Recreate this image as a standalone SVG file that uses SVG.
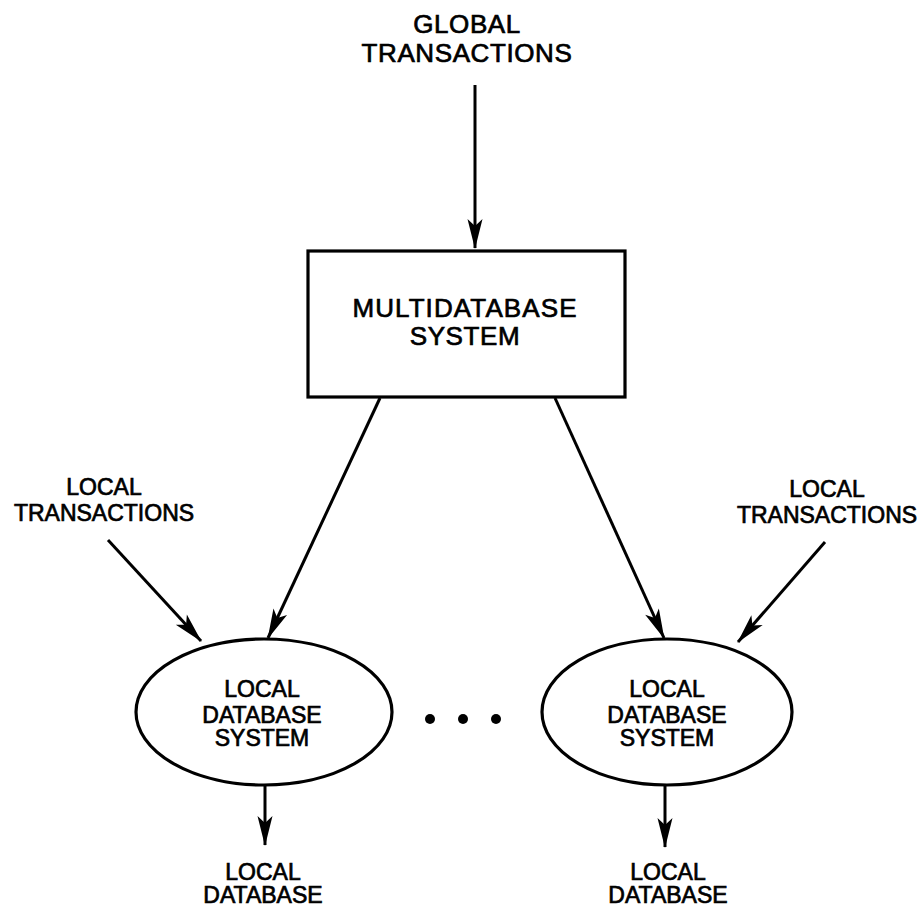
<svg xmlns="http://www.w3.org/2000/svg" width="922" height="910" viewBox="0 0 922 910">
  <style>
    .lbl { font-family: "Liberation Sans", Arial, Helvetica, sans-serif; fill: #000; stroke: #000; stroke-width: 0.7; text-anchor: middle; }
    .big { font-size: 26px; letter-spacing: 0.6px; }
    .wide { letter-spacing: 1.1px; }
    .small { font-size: 23px; }
    .shape { fill: #fff; stroke: #000; stroke-width: 3.2; }
    .edge { stroke: #000; stroke-width: 3; fill: none; marker-end: url(#head); }
  </style>
  <defs>
    <marker id="head" markerUnits="userSpaceOnUse" markerWidth="32" markerHeight="18" viewBox="-30 -9 32 18" refX="0" refY="0" orient="auto">
      <path d="M1,0 L-29,-7.5 L-22,0 L-29,7.5 Z" fill="#000"/>
    </marker>
  </defs>
  <rect width="922" height="910" fill="#fff"/>

  <!-- connectors -->
  <g id="connectors">
    <line class="edge" x1="475" y1="85" x2="475" y2="248"/>
    <line class="edge" x1="380" y1="398" x2="268" y2="638"/>
    <line class="edge" x1="555" y1="398" x2="664" y2="638"/>
    <line class="edge" x1="108" y1="540" x2="201" y2="641"/>
    <line class="edge" x1="825" y1="542" x2="738" y2="642"/>
    <line class="edge" x1="265" y1="786" x2="265" y2="845"/>
    <line class="edge" x1="665" y1="786" x2="665" y2="847"/>
  </g>

  <!-- input labels -->
  <g id="global-transactions">
    <text class="lbl big" x="467" y="33">GLOBAL</text>
    <text class="lbl big" x="467" y="62">TRANSACTIONS</text>
  </g>
  <g id="local-transactions-left">
    <text class="lbl small" x="104" y="495">LOCAL</text>
    <text class="lbl small" x="104" y="521">TRANSACTIONS</text>
  </g>
  <g id="local-transactions-right">
    <text class="lbl small" x="827" y="497">LOCAL</text>
    <text class="lbl small" x="827" y="523">TRANSACTIONS</text>
  </g>

  <!-- multidatabase system -->
  <g id="multidatabase-system">
    <rect class="shape" x="308" y="251" width="317" height="146"/>
    <text class="lbl big wide" x="465" y="317">MULTIDATABASE</text>
    <text class="lbl big" x="465" y="345">SYSTEM</text>
  </g>

  <!-- local database systems -->
  <g id="local-dbs-left">
    <ellipse class="shape" cx="264" cy="712" rx="128" ry="73"/>
    <text class="lbl small" x="262" y="697">LOCAL</text>
    <text class="lbl small" x="262" y="723">DATABASE</text>
    <text class="lbl small" x="262" y="746">SYSTEM</text>
  </g>
  <g id="local-dbs-right">
    <ellipse class="shape" cx="667" cy="712" rx="125" ry="73"/>
    <text class="lbl small" x="667" y="697">LOCAL</text>
    <text class="lbl small" x="667" y="723">DATABASE</text>
    <text class="lbl small" x="667" y="746">SYSTEM</text>
  </g>

  <!-- ellipsis between the local systems -->
  <g id="ellipsis">
    <circle cx="430" cy="719" r="5"/>
    <circle cx="463" cy="719" r="5"/>
    <circle cx="496" cy="719" r="5"/>
  </g>

  <!-- local databases -->
  <g id="local-db-left">
    <text class="lbl small" x="263" y="880">LOCAL</text>
    <text class="lbl small" x="263" y="903">DATABASE</text>
  </g>
  <g id="local-db-right">
    <text class="lbl small" x="668" y="880">LOCAL</text>
    <text class="lbl small" x="668" y="903">DATABASE</text>
  </g>
</svg>
